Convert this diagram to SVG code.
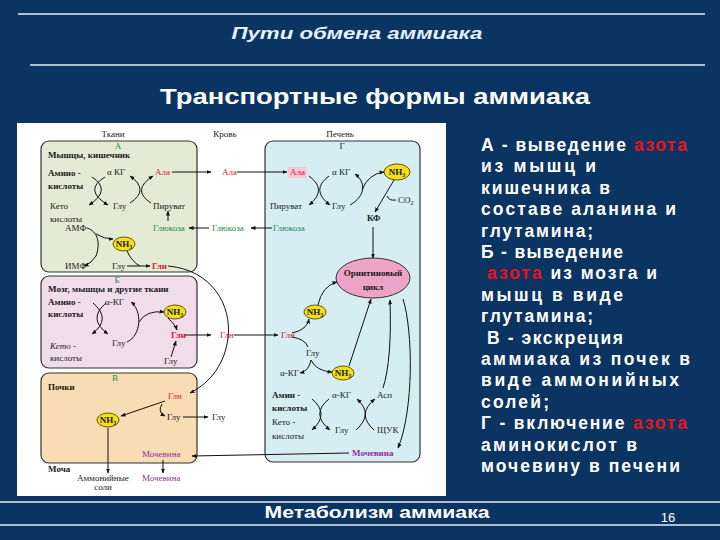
<svg xmlns="http://www.w3.org/2000/svg" width="720" height="540" viewBox="0 0 720 540">
<defs>
<marker id="ah" viewBox="0 0 10 10" refX="9" refY="5" markerWidth="5" markerHeight="5" orient="auto" markerUnits="userSpaceOnUse"><path d="M0,1 L10,5 L0,9 z" fill="#111"/></marker>
<style>
.t{font-family:"Liberation Serif",serif;font-size:9px;fill:#1a1a1a}
.b{font-weight:bold}
.m{text-anchor:middle}
.red{fill:#d8182c}
.grn{fill:#1f8a4c}
.pur{fill:#9a2a9a}
.c{stroke:#111;stroke-width:1;fill:none;marker-end:url(#ah)}
.l{stroke:#111;stroke-width:1;fill:none}
.box{stroke:#333;stroke-width:1.2}
.nh{fill:#f3df1e;stroke:#6a5600;stroke-width:1}
.w{font-family:"Liberation Sans",Arial,sans-serif;font-weight:bold;font-size:17.5px;fill:#ffffff}
.rz{fill:#e8141c}
.hl{stroke:#e6eef6;stroke-width:1.5}
</style>
</defs>
<rect x="0" y="0" width="720" height="540" fill="#0b3463"/>
<g id="header">
<line class="hl" x1="18" y1="14" x2="705" y2="14"/>
<text x="357" y="39" text-anchor="middle" font-family="Liberation Sans,Arial,sans-serif" font-size="17" font-weight="bold" font-style="italic" fill="#e4f2ff" textLength="251" lengthAdjust="spacingAndGlyphs">Пути обмена аммиака</text>
<line class="hl" x1="30" y1="65" x2="705" y2="65"/>
<text x="375" y="104" text-anchor="middle" font-family="Liberation Sans,Arial,sans-serif" font-size="22" font-weight="bold" fill="#ffffff" textLength="430" lengthAdjust="spacingAndGlyphs">Транспортные формы аммиака</text>
</g>
<g id="diagram">
<rect x="17" y="123" width="429" height="373" fill="#ffffff"/>
<text class="t m" x="113" y="137">Ткани</text>
<text class="t m" x="225" y="137">Кровь</text>
<text class="t m" x="340" y="137">Печень</text>
<g id="boxA">
<rect class="box" x="41" y="141" width="156" height="131" rx="8" fill="#e4ead3"/>
<text class="t m grn" x="118" y="149" font-size="8">А</text>
<text class="t b" x="48" y="158">Мышцы, кишечник</text>
<text class="t b" x="48" y="176">Амино -</text>
<text class="t b" x="48" y="189">кислоты</text>
<text class="t" x="107" y="175">α КГ</text>
<text class="t red" x="155" y="175">Ала</text>
<text class="t" x="50" y="209">Кето</text>
<text class="t" x="50" y="222">кислоты</text>
<text class="t" x="113" y="209">Глу</text>
<text class="t" x="153" y="209">Пируват</text>
<text class="t grn" x="153" y="231">Глюкоза</text>
<text class="t" x="65" y="231">АМФ</text>
<ellipse class="nh" cx="124" cy="244" rx="11" ry="7"/>
<text class="t m b" x="124" y="247" font-size="8">NH<tspan font-size="6" dy="1.5">3</tspan></text>
<text class="t" x="65" y="269">ИМФ</text>
<text class="t" x="112" y="269">Глу</text>
<text class="t b red" x="152" y="269">Глн</text>
</g>
<g id="boxB">
<rect class="box" x="41" y="276" width="156" height="92" rx="8" fill="#f1dcea"/>
<text class="t m grn" x="117" y="283" font-size="8">Б</text>
<text class="t b" x="48" y="292">Мозг, мышцы и другие ткани</text>
<text class="t b" x="48" y="305">Амино -</text>
<text class="t b" x="48" y="317">кислоты</text>
<text class="t" x="105" y="305">α-КГ</text>
<ellipse class="nh" cx="175" cy="312" rx="11" ry="7"/>
<text class="t m b" x="175" y="315" font-size="8">NH<tspan font-size="6" dy="1.5">3</tspan></text>
<text class="t b red" x="171" y="338">Глн</text>
<text class="t" x="50" y="349" font-style="italic">Кето -</text>
<text class="t" x="50" y="361">кислоты</text>
<text class="t" x="112" y="346">Глу</text>
<text class="t" x="164" y="364">Глу</text>
</g>
<g id="boxV">
<rect class="box" x="41" y="373" width="156" height="90" rx="8" fill="#f8dcb4"/>
<text class="t m grn" x="115" y="381" font-size="8">В</text>
<text class="t b" x="48" y="390">Почки</text>
<text class="t red" x="168" y="399">Глн</text>
<ellipse class="nh" cx="108" cy="420" rx="11" ry="7"/>
<text class="t m b" x="108" y="423" font-size="8">NH<tspan font-size="6" dy="1.5">3</tspan></text>
<text class="t" x="167" y="420">Глу</text>
<text class="t pur" x="142" y="457">Мочевина</text>
</g>
<g id="urine">
<text class="t b" x="48" y="472">Моча</text>
<text class="t" x="77" y="481" font-size="8" fill="#5a2a4a">Аммонийные</text>
<text class="t m" x="103" y="490" font-size="8" fill="#5a2a4a">соли</text>
<text class="t pur" x="142" y="481">Мочевина</text>
</g>
<g id="blood">
<text class="t red" x="222" y="175">Ала</text>
<text class="t grn" x="212" y="231">Глюкоза</text>
<text class="t red" x="220" y="338">Глн</text>
<text class="t" x="212" y="420">Глу</text>
</g>
<g id="liver">
<rect class="box" x="265" y="141" width="155" height="321" rx="8" fill="#d5edf3"/>
<text class="t m" x="342" y="149" font-size="8">Г</text>
<rect x="288" y="167" width="19" height="11" fill="#f7c9d6"/>
<text class="t red" x="290" y="175">Ала</text>
<text class="t" x="332" y="175">α КГ</text>
<ellipse class="nh" cx="397" cy="172" rx="13" ry="8"/>
<text class="t m b" x="397" y="175" font-size="8">NH<tspan font-size="6" dy="1.5">3</tspan></text>
<text class="t" x="270" y="209">Пируват</text>
<text class="t" x="332" y="209">Глу</text>
<text class="t" x="398" y="203">CO<tspan font-size="6" dy="2">2</tspan></text>
<text class="t b" x="367" y="221">КФ</text>
<text class="t grn" x="273" y="231">Глюкоза</text>
<ellipse cx="373" cy="278" rx="37" ry="20" fill="#eda3c8" stroke="#333" stroke-width="1"/>
<text class="t m b" x="373" y="276" font-size="8.5">Орнитиновый</text>
<text class="t m b" x="373" y="290" font-size="8.5">цикл</text>
<ellipse class="nh" cx="315" cy="312" rx="11" ry="7"/>
<text class="t m b" x="315" y="315" font-size="8">NH<tspan font-size="6" dy="1.5">3</tspan></text>
<text class="t red" x="281" y="338">Глн</text>
<text class="t" x="306" y="356" font-size="7">Глу</text>
<text class="t" x="280" y="376" font-size="8">α-КГ</text>
<ellipse class="nh" cx="343" cy="373" rx="11" ry="7"/>
<text class="t m b" x="343" y="376" font-size="8">NH<tspan font-size="6" dy="1.5">3</tspan></text>
<text class="t b" x="272" y="398" font-size="8">Амин -</text>
<text class="t b" x="272" y="411" font-size="8">кислоты</text>
<text class="t" x="272" y="425">Кето -</text>
<text class="t" x="272" y="439">кислоты</text>
<text class="t" x="332" y="398">α-КГ</text>
<text class="t" x="377" y="398">Асп</text>
<text class="t" x="335" y="433">Глу</text>
<text class="t" x="377" y="433">ЩУК</text>
<text class="t b pur" x="352" y="456">Мочевина</text>
</g>
</g>
<g id="connectors">
<path class="c" d="M92,177 Q112,190 89,205"/>
<path class="c" d="M105,177 Q83,190 108,205"/>
<path class="c" d="M130,203 Q150,190 130,176"/>
<path class="c" d="M151,203 Q131,190 153,176"/>
<path class="c" d="M172,172 L211,172"/>
<path class="c" d="M237,172 L287,172"/>
<path class="c" d="M168,221 L168,211"/>
<path class="c" d="M209,228 L189,228"/>
<path class="c" d="M272,228 L251,228"/>
<path class="c" d="M87,228 C97,231 101,242 96,256 Q92,263 84,266"/>
<path class="c" d="M96,234 Q104,239 113,239"/>
<path class="c" d="M127,266 L150,266"/>
<path class="l" d="M127,251 Q132,262 140,266"/>
<path class="c" d="M168,266 C212,270 232,305 228,338 C225,362 212,382 190,393"/>
<path class="c" d="M93,303 Q112,319 92,334"/>
<path class="c" d="M106,303 Q87,319 108,334"/>
<path class="c" d="M127,342 C142,335 142,310 131,302"/>
<path class="c" d="M139,322 Q146,310 164,312"/>
<path class="c" d="M168,318 Q175,324 177,330"/>
<path class="c" d="M171,357 L176,341"/>
<path class="c" d="M185,335 L211,335"/>
<path class="c" d="M234,335 L278,335"/>
<path class="c" d="M309,176 Q328,190 309,205"/>
<path class="c" d="M329,176 Q310,190 330,205"/>
<path class="c" d="M350,205 C366,196 366,182 355,174"/>
<path class="c" d="M362,190 Q368,174 384,172"/>
<path class="c" d="M394,180 L375,212"/>
<path class="l" d="M396,200 Q389,201 387,196"/>
<path class="c" d="M373,227 L373,258"/>
<path class="c" d="M292,333 Q307,330 309,319"/>
<path class="c" d="M318,305 Q322,286 337,282"/>
<path class="l" d="M292,337 Q305,339 308,347"/>
<path class="c" d="M311,360 Q309,371 300,373"/>
<path class="c" d="M311,360 Q316,371 332,372"/>
<path class="c" d="M349,366 L371,299"/>
<path class="c" d="M383,388 Q392,360 390,300"/>
<path class="c" d="M403,299 C413,330 414,410 398,448"/>
<path class="c" d="M312,399 Q330,414 312,430"/>
<path class="c" d="M329,399 Q310,414 330,430"/>
<path class="c" d="M356,430 Q374,414 357,399"/>
<path class="c" d="M374,430 Q356,414 375,399"/>
<path class="c" d="M349,453 L192,456"/>
<path class="c" d="M165,401 L121,416"/>
<path class="c" d="M162,404 Q157,412 165,416"/>
<path class="c" d="M183,417 L208,417"/>
<path class="c" d="M108,428 L108,473"/>
<path class="c" d="M163,460 L163,473"/>
</g>
<g id="legend">
<text class="w" x="481" y="151" textLength="206" lengthAdjust="spacing">А - выведение <tspan class="rz">азота</tspan></text>
<text class="w" x="481" y="172" textLength="115" lengthAdjust="spacing">из мышц и</text>
<text class="w" x="481" y="194" textLength="129" lengthAdjust="spacing">кишечника в</text>
<text class="w" x="481" y="215" textLength="195" lengthAdjust="spacing">составе аланина и</text>
<text class="w" x="481" y="237" textLength="112" lengthAdjust="spacing">глутамина;</text>
<text class="w" x="481" y="258" textLength="142" lengthAdjust="spacing">Б - выведение</text>
<text class="w" x="487" y="279" textLength="170" lengthAdjust="spacing"><tspan class="rz">азота</tspan> из мозга и</text>
<text class="w" x="481" y="301" textLength="142" lengthAdjust="spacing">мышц в виде</text>
<text class="w" x="481" y="322" textLength="112" lengthAdjust="spacing">глутамина;</text>
<text class="w" x="487" y="344" textLength="136" lengthAdjust="spacing">В - экскреция</text>
<text class="w" x="481" y="365" textLength="209" lengthAdjust="spacing">аммиака из почек в</text>
<text class="w" x="481" y="386" textLength="198" lengthAdjust="spacing">виде аммонийных</text>
<text class="w" x="481" y="408" textLength="68" lengthAdjust="spacing">солей;</text>
<text class="w" x="481" y="429" textLength="206" lengthAdjust="spacing">Г - включение <tspan class="rz">азота</tspan></text>
<text class="w" x="481" y="451" textLength="156" lengthAdjust="spacing">аминокислот в</text>
<text class="w" x="481" y="472" textLength="199" lengthAdjust="spacing">мочевину в печени</text>
</g>
<g id="footer">
<line class="hl" x1="0" y1="502" x2="720" y2="502"/>
<text x="377" y="518" text-anchor="middle" font-family="Liberation Sans,Arial,sans-serif" font-size="17" font-weight="bold" fill="#ffffff" textLength="225" lengthAdjust="spacingAndGlyphs">Метаболизм аммиака</text>
<text x="668" y="522" text-anchor="middle" font-family="Liberation Sans,Arial,sans-serif" font-size="13" fill="#ffffff">16</text>
<line class="hl" x1="0" y1="525" x2="720" y2="525"/>
</g>
</svg>
